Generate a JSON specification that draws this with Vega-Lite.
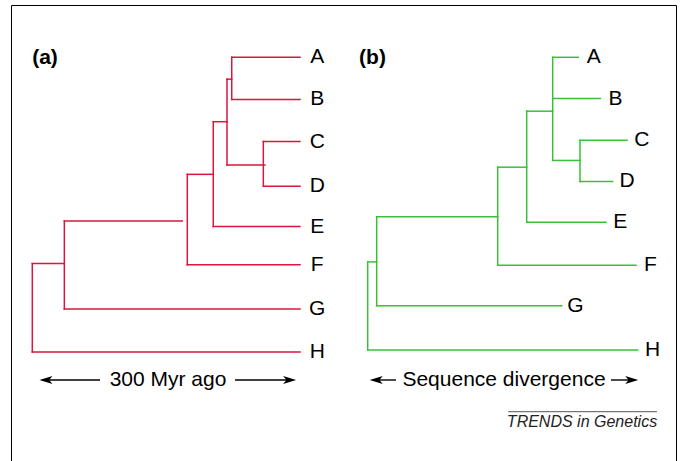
{
  "$schema": "https://vega.github.io/schema/vega-lite/v6.json",
  "width": 682,
  "height": 461,
  "autosize": {"type": "fit", "contains": "padding"},
  "padding": {"left": 11, "top": 5, "right": 6, "bottom": 0},
  "background": "white",
  "config": {"view": {"stroke": "black", "strokeWidth": 1}},
  "datasets": {
    "tree_a": [
      {"x1": 76.5, "x2": 0, "y1": 1.0, "y2": 1.0},
      {"x1": 76.5, "x2": 0, "y1": 2.0, "y2": 2.0},
      {"x1": 76.5, "x2": 76.5, "y1": 1.0, "y2": 2.0},
      {"x1": 81.8, "x2": 76.5, "y1": 1.52, "y2": 1.52},
      {"x1": 41.1, "x2": 0, "y1": 3.0, "y2": 3.0},
      {"x1": 41.1, "x2": 0, "y1": 4.06, "y2": 4.06},
      {"x1": 41.1, "x2": 41.1, "y1": 3.0, "y2": 4.06},
      {"x1": 81.8, "x2": 39.4, "y1": 3.56, "y2": 3.56},
      {"x1": 81.8, "x2": 81.8, "y1": 1.52, "y2": 3.56},
      {"x1": 97.2, "x2": 81.8, "y1": 2.53, "y2": 2.53},
      {"x1": 97.2, "x2": 0, "y1": 5.02, "y2": 5.02},
      {"x1": 97.2, "x2": 97.2, "y1": 2.53, "y2": 5.02},
      {"x1": 126.3, "x2": 97.2, "y1": 3.78, "y2": 3.78},
      {"x1": 126.3, "x2": 0, "y1": 5.93, "y2": 5.93},
      {"x1": 126.3, "x2": 126.3, "y1": 3.78, "y2": 5.93},
      {"x1": 264.1, "x2": 131.9, "y1": 4.89, "y2": 4.89},
      {"x1": 264.1, "x2": 0, "y1": 6.98, "y2": 6.98},
      {"x1": 264.1, "x2": 264.1, "y1": 4.89, "y2": 6.98},
      {"x1": 300, "x2": 264.1, "y1": 5.9, "y2": 5.9},
      {"x1": 300, "x2": 0, "y1": 8.0, "y2": 8.0},
      {"x1": 300, "x2": 300, "y1": 5.9, "y2": 8.0}
    ],
    "tree_b": [
      {"x1": 0.6852, "x2": 0.78, "y1": 1.0, "y2": 1.0},
      {"x1": 0.6852, "x2": 0.8615, "y1": 1.98, "y2": 1.98},
      {"x1": 0.6852, "x2": 0.7863, "y1": 3.45, "y2": 3.45},
      {"x1": 0.6852, "x2": 0.6852, "y1": 1.0, "y2": 3.45},
      {"x1": 0.7863, "x2": 0.9604, "y1": 2.97, "y2": 2.97},
      {"x1": 0.7863, "x2": 0.9074, "y1": 3.95, "y2": 3.95},
      {"x1": 0.7863, "x2": 0.7863, "y1": 2.97, "y2": 3.95},
      {"x1": 0.5889, "x2": 0.6852, "y1": 2.28, "y2": 2.28},
      {"x1": 0.5889, "x2": 0.8826, "y1": 4.92, "y2": 4.92},
      {"x1": 0.5889, "x2": 0.5889, "y1": 2.28, "y2": 4.92},
      {"x1": 0.4815, "x2": 0.5889, "y1": 3.61, "y2": 3.61},
      {"x1": 0.4815, "x2": 0.9937, "y1": 5.94, "y2": 5.94},
      {"x1": 0.4815, "x2": 0.4815, "y1": 3.61, "y2": 5.94},
      {"x1": 0.0333, "x2": 0.4815, "y1": 4.79, "y2": 4.79},
      {"x1": 0.0333, "x2": 0.7185, "y1": 6.9, "y2": 6.9},
      {"x1": 0.0333, "x2": 0.0333, "y1": 4.79, "y2": 6.9},
      {"x1": 0, "x2": 0.0333, "y1": 5.86, "y2": 5.86},
      {"x1": 0, "x2": 1.0, "y1": 7.95, "y2": 7.95},
      {"x1": 0, "x2": 0, "y1": 5.86, "y2": 7.95}
    ],
    "tips_a": [
      {"taxon": "A", "myr": -19.3, "row": 1.0},
      {"taxon": "B", "myr": -19.3, "row": 2.0},
      {"taxon": "C", "myr": -19.3, "row": 3.0},
      {"taxon": "D", "myr": -19.3, "row": 4.06},
      {"taxon": "E", "myr": -19.3, "row": 5.02},
      {"taxon": "F", "myr": -19.3, "row": 5.93},
      {"taxon": "G", "myr": -19.3, "row": 6.98},
      {"taxon": "H", "myr": -19.3, "row": 8.0}
    ],
    "tips_b": [
      {"taxon": "A", "div": 0.8374, "row": 1.0},
      {"taxon": "B", "div": 0.9178, "row": 1.98},
      {"taxon": "C", "div": 1.0152, "row": 2.97},
      {"taxon": "D", "div": 0.9604, "row": 3.95},
      {"taxon": "E", "div": 0.9356, "row": 4.92},
      {"taxon": "F", "div": 1.0474, "row": 5.94},
      {"taxon": "G", "div": 0.7696, "row": 6.9},
      {"taxon": "H", "div": 1.0552, "row": 7.95}
    ],
    "head_a": [{"label": "(a)", "myr": 285.8, "row": 1.02}],
    "head_b": [{"label": "(b)", "div": 0.0178, "row": 1.02}],
    "axis_a": [{"label": "300 Myr ago", "myr": 147.9, "row": 8.665}],
    "axis_b": [{"label": "Sequence divergence", "div": 0.5048, "row": 8.665}],
    "arrows_a": [
      {"x1": 289.1, "x2": 224.1, "row": 8.665},
      {"x1": 72.8, "x2": 7.8, "row": 8.665}
    ],
    "heads_a": [
      {"dir": "left", "myr": 284.7, "row": 8.665},
      {"dir": "right", "myr": 11.6, "row": 8.665}
    ],
    "arrows_b": [
      {"x1": 0.0196, "x2": 0.1048, "row": 8.665},
      {"x1": 0.9011, "x2": 0.99, "row": 8.665}
    ],
    "heads_b": [
      {"dir": "left", "div": 0.0315, "row": 8.665},
      {"dir": "right", "div": 0.9781, "row": 8.665}
    ],
    "credit": [{"label": "TRENDS in Genetics", "div": 0.7937, "row": 9.663, "x1": 0.5204, "x2": 1.0715, "line_row": 9.418}]
  },
  "encoding": {
    "y": {"field": "row", "type": "quantitative", "scale": {"domain": [-0.2423, 10.589], "reverse": true, "nice": false, "zero": false}, "axis": null}
  },
  "layer": [
    {
      "data": {"name": "tree_a"},
      "mark": {"type": "rule", "color": "#da163c", "strokeWidth": 1.5, "strokeCap": "square"},
      "encoding": {
        "x": {"field": "x1", "type": "quantitative", "scale": {"domain": [-421.37, 323.87], "reverse": true, "nice": false, "zero": false}, "axis": null},
        "x2": {"field": "x2"},
        "y": {"field": "y1", "type": "quantitative", "scale": {"domain": [-0.2423, 10.589], "reverse": true, "nice": false, "zero": false}, "axis": null},
        "y2": {"field": "y2"}
      }
    },
    {
      "data": {"name": "tree_b"},
      "mark": {"type": "rule", "color": "#38c038", "strokeWidth": 1.5, "strokeCap": "square"},
      "encoding": {
        "x": {"field": "x1", "type": "quantitative", "scale": {"domain": [-1.3211, 1.1419], "nice": false, "zero": false}, "axis": null},
        "x2": {"field": "x2"},
        "y": {"field": "y1", "type": "quantitative", "scale": {"domain": [-0.2423, 10.589], "reverse": true, "nice": false, "zero": false}, "axis": null},
        "y2": {"field": "y2"}
      }
    },
    {
      "data": {"name": "tips_a"},
      "mark": {"type": "text", "font": "Liberation Sans", "fontSize": 21, "align": "center", "baseline": "middle", "color": "black"},
      "encoding": {
        "x": {"field": "myr", "type": "quantitative", "scale": {"domain": [-421.37, 323.87], "reverse": true, "nice": false, "zero": false}, "axis": null},
        "text": {"field": "taxon"}
      }
    },
    {
      "data": {"name": "tips_b"},
      "mark": {"type": "text", "font": "Liberation Sans", "fontSize": 21, "align": "center", "baseline": "middle", "color": "black"},
      "encoding": {
        "x": {"field": "div", "type": "quantitative", "scale": {"domain": [-1.3211, 1.1419], "nice": false, "zero": false}, "axis": null},
        "text": {"field": "taxon"}
      }
    },
    {
      "data": {"name": "head_a"},
      "mark": {"type": "text", "font": "Liberation Sans", "fontSize": 21, "fontWeight": "bold", "align": "center", "baseline": "middle", "color": "black"},
      "encoding": {
        "x": {"field": "myr", "type": "quantitative", "scale": {"domain": [-421.37, 323.87], "reverse": true, "nice": false, "zero": false}, "axis": null},
        "text": {"field": "label"}
      }
    },
    {
      "data": {"name": "head_b"},
      "mark": {"type": "text", "font": "Liberation Sans", "fontSize": 21, "fontWeight": "bold", "align": "center", "baseline": "middle", "color": "black"},
      "encoding": {
        "x": {"field": "div", "type": "quantitative", "scale": {"domain": [-1.3211, 1.1419], "nice": false, "zero": false}, "axis": null},
        "text": {"field": "label"}
      }
    },
    {
      "data": {"name": "axis_a"},
      "mark": {"type": "text", "font": "Liberation Sans", "fontSize": 21, "align": "center", "baseline": "middle", "color": "black"},
      "encoding": {
        "x": {"field": "myr", "type": "quantitative", "scale": {"domain": [-421.37, 323.87], "reverse": true, "nice": false, "zero": false}, "axis": null},
        "text": {"field": "label"}
      }
    },
    {
      "data": {"name": "axis_b"},
      "mark": {"type": "text", "font": "Liberation Sans", "fontSize": 21, "align": "center", "baseline": "middle", "color": "black"},
      "encoding": {
        "x": {"field": "div", "type": "quantitative", "scale": {"domain": [-1.3211, 1.1419], "nice": false, "zero": false}, "axis": null},
        "text": {"field": "label"}
      }
    },
    {
      "data": {"name": "arrows_a"},
      "mark": {"type": "rule", "color": "black", "strokeWidth": 1.4},
      "encoding": {
        "x": {"field": "x1", "type": "quantitative", "scale": {"domain": [-421.37, 323.87], "reverse": true, "nice": false, "zero": false}, "axis": null},
        "x2": {"field": "x2"}
      }
    },
    {
      "data": {"name": "arrows_b"},
      "mark": {"type": "rule", "color": "black", "strokeWidth": 1.4},
      "encoding": {
        "x": {"field": "x1", "type": "quantitative", "scale": {"domain": [-1.3211, 1.1419], "nice": false, "zero": false}, "axis": null},
        "x2": {"field": "x2"}
      }
    },
    {
      "data": {"name": "heads_a"},
      "mark": {"type": "point", "filled": true, "color": "black", "opacity": 1, "size": 169},
      "encoding": {
        "x": {"field": "myr", "type": "quantitative", "scale": {"domain": [-421.37, 323.87], "reverse": true, "nice": false, "zero": false}, "axis": null},
        "shape": {"field": "dir", "type": "nominal", "scale": {"domain": ["left", "right"], "range": ["M-1,0L1,-0.6L0.5,0L1,0.6Z", "M1,0L-1,-0.6L-0.5,0L-1,0.6Z"]}, "legend": null}
      }
    },
    {
      "data": {"name": "heads_b"},
      "mark": {"type": "point", "filled": true, "color": "black", "opacity": 1, "size": 169},
      "encoding": {
        "x": {"field": "div", "type": "quantitative", "scale": {"domain": [-1.3211, 1.1419], "nice": false, "zero": false}, "axis": null},
        "shape": {"field": "dir", "type": "nominal", "scale": {"domain": ["left", "right"], "range": ["M-1,0L1,-0.6L0.5,0L1,0.6Z", "M1,0L-1,-0.6L-0.5,0L-1,0.6Z"]}, "legend": null}
      }
    },
    {
      "data": {"name": "credit"},
      "mark": {"type": "rule", "color": "#555555", "strokeWidth": 1},
      "encoding": {
        "x": {"field": "x1", "type": "quantitative", "scale": {"domain": [-1.3211, 1.1419], "nice": false, "zero": false}, "axis": null},
        "x2": {"field": "x2"},
        "y": {"field": "line_row", "type": "quantitative", "scale": {"domain": [-0.2423, 10.589], "reverse": true, "nice": false, "zero": false}, "axis": null}
      }
    },
    {
      "data": {"name": "credit"},
      "mark": {"type": "text", "font": "Liberation Sans", "fontSize": 16, "fontStyle": "italic", "align": "center", "baseline": "middle", "color": "#222222"},
      "encoding": {
        "x": {"field": "div", "type": "quantitative", "scale": {"domain": [-1.3211, 1.1419], "nice": false, "zero": false}, "axis": null},
        "text": {"field": "label"}
      }
    }
  ],
  "resolve": {"scale": {"x": "independent", "shape": "independent"}}
}
